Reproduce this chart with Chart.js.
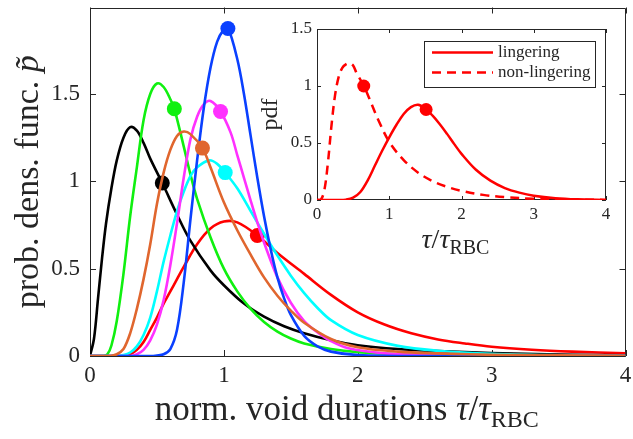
<!DOCTYPE html>
<html>
<head>
<meta charset="utf-8">
<script src="https://cdn.jsdelivr.net/npm/chart.js@4.4.1/dist/chart.umd.min.js"></script>
<style>
    html, body { margin: 0; padding: 0; background: #fff; }
    #wrap { position: relative; width: 633px; height: 439px; }
    #wrap canvas { position: absolute; left: 0; top: 0; }
</style>
</head>
<body>
<div id="wrap">
    <canvas id="main" width="633" height="439"></canvas>
    <canvas id="inset" width="633" height="439"></canvas>
</div>
<script>
// ---- Data ----
const xTicks = [0, 1, 2, 3, 4];
const yTicks = [0, 0.5, 1, 1.5];
const insetYTicks = [0, 0.5, 1, 1.5];

const redX = [0, 0.25, 0.3, 0.35, 0.4, 0.45, 0.5, 0.55, 0.6, 0.65, 0.7, 0.8, 0.9, 1.0, 1.1, 1.25, 1.4, 1.6, 1.8, 2.0, 2.2, 2.4, 2.6, 2.8, 3.0, 3.3, 3.6, 4.0];
const redY = [0, 0, 0.01, 0.035, 0.08, 0.15, 0.22, 0.3, 0.37, 0.44, 0.51, 0.64, 0.73, 0.77, 0.765, 0.69, 0.59, 0.47, 0.35, 0.25, 0.18, 0.13, 0.095, 0.072, 0.053, 0.036, 0.025, 0.015];

const blackX = [0, 0.03, 0.06, 0.09, 0.12, 0.16, 0.2, 0.25, 0.3, 0.35, 0.4, 0.45, 0.54, 0.65, 0.75, 0.9, 1.0, 1.15, 1.3, 1.45, 1.6, 1.8, 2.0, 2.3, 2.6, 3.0, 3.5, 4.0];
const blackY = [0, 0.1, 0.33, 0.56, 0.76, 0.96, 1.12, 1.25, 1.31, 1.29, 1.22, 1.13, 0.99, 0.81, 0.66, 0.49, 0.405, 0.3, 0.225, 0.17, 0.13, 0.09, 0.062, 0.04, 0.028, 0.017, 0.008, 0.004];

const greenX = [0, 0.1, 0.13, 0.16, 0.2, 0.25, 0.3, 0.35, 0.4, 0.45, 0.5, 0.55, 0.6, 0.63, 0.7, 0.75, 0.8, 0.9, 1.0, 1.1, 1.2, 1.3, 1.4, 1.5, 1.6, 1.8, 2.0, 2.3, 2.6, 3.0, 4.0];
const greenY = [0, 0, 0.01, 0.06, 0.2, 0.47, 0.8, 1.08, 1.35, 1.5, 1.56, 1.54, 1.47, 1.415, 1.2, 1.04, 0.9, 0.68, 0.5, 0.37, 0.27, 0.195, 0.14, 0.1, 0.072, 0.04, 0.022, 0.01, 0.005, 0.002, 0];

const cyanX = [0, 0.2, 0.25, 0.3, 0.35, 0.4, 0.45, 0.5, 0.55, 0.6, 0.65, 0.7, 0.75, 0.8, 0.89, 0.95, 1.01, 1.1, 1.2, 1.3, 1.4, 1.5, 1.6, 1.7, 1.8, 2.0, 2.3, 2.6, 3.0, 3.5, 4.0];
const cyanY = [0, 0, 0.005, 0.02, 0.055, 0.12, 0.22, 0.37, 0.54, 0.69, 0.83, 0.94, 1.03, 1.08, 1.12, 1.1, 1.05, 0.96, 0.83, 0.7, 0.575, 0.46, 0.36, 0.275, 0.205, 0.12, 0.058, 0.03, 0.012, 0.004, 0.001];

const magentaX = [0, 0.3, 0.35, 0.4, 0.45, 0.5, 0.55, 0.6, 0.65, 0.7, 0.75, 0.8, 0.85, 0.9, 0.975, 1.05, 1.1, 1.15, 1.2, 1.25, 1.3, 1.4, 1.5, 1.6, 1.7, 1.8, 1.93, 2.2, 2.5, 3.0, 4.0];
const magentaY = [0, 0, 0.01, 0.035, 0.09, 0.18, 0.32, 0.52, 0.76, 1.02, 1.24, 1.37, 1.44, 1.46, 1.4, 1.28, 1.15, 1.02, 0.89, 0.765, 0.65, 0.45, 0.305, 0.2, 0.135, 0.085, 0.044, 0.015, 0.005, 0.001, 0];

const blueX = [0, 0.45, 0.5, 0.55, 0.6, 0.65, 0.7, 0.75, 0.8, 0.85, 0.9, 0.95, 1.0, 1.03, 1.1, 1.15, 1.2, 1.25, 1.3, 1.35, 1.4, 1.45, 1.5, 1.6, 1.7, 1.8, 2.0, 2.5, 4.0];
const blueY = [0, 0, 0.003, 0.01, 0.04, 0.15, 0.42, 0.78, 1.12, 1.42, 1.65, 1.8, 1.87, 1.88, 1.7, 1.5, 1.26, 1.02, 0.8, 0.61, 0.45, 0.33, 0.235, 0.115, 0.055, 0.025, 0.006, 0, 0];

const orangeX = [0, 0.15, 0.2, 0.25, 0.3, 0.35, 0.4, 0.45, 0.5, 0.55, 0.6, 0.65, 0.7, 0.75, 0.84, 0.9, 1.0, 1.1, 1.2, 1.3, 1.4, 1.5, 1.6, 1.8, 2.0, 2.3, 2.6, 3.0, 4.0];
const orangeY = [0, 0, 0.01, 0.04, 0.13, 0.27, 0.44, 0.64, 0.87, 1.05, 1.18, 1.26, 1.285, 1.27, 1.19, 1.08, 0.88, 0.72, 0.58, 0.45, 0.345, 0.26, 0.19, 0.097, 0.05, 0.025, 0.015, 0.007, 0.001];

// marker dots, same order as the curves: red, black, green, cyan, magenta, blue, orange
const dotX = [1.25, 0.54, 0.63, 1.01, 0.975, 1.03, 0.84];
const dotY = [0.69, 0.99, 1.415, 1.05, 1.4, 1.875, 1.19];

// inset
const lingX = [0, 0.3, 0.4, 0.5, 0.6, 0.7, 0.8, 0.9, 1.0, 1.1, 1.2, 1.3, 1.4, 1.5, 1.6, 1.7, 1.8, 1.9, 2.0, 2.2, 2.4, 2.6, 2.8, 3.0, 3.3, 3.6, 4.0];
const lingY = [0, 0, 0.003, 0.02, 0.07, 0.17, 0.3, 0.43, 0.55, 0.66, 0.755, 0.815, 0.835, 0.8, 0.74, 0.665, 0.58, 0.49, 0.405, 0.265, 0.17, 0.105, 0.065, 0.038, 0.016, 0.006, 0.001];
const nonX = [0, 0.05, 0.1, 0.15, 0.2, 0.25, 0.3, 0.35, 0.4, 0.45, 0.5, 0.55, 0.65, 0.75, 0.85, 1.0, 1.2, 1.4, 1.6, 1.8, 2.0, 2.3, 2.6, 3.0, 3.5, 4.0];
const nonY = [0, 0, 0.08, 0.32, 0.65, 0.92, 1.08, 1.16, 1.19, 1.2, 1.18, 1.11, 1.0, 0.85, 0.7, 0.51, 0.35, 0.24, 0.165, 0.115, 0.08, 0.045, 0.025, 0.011, 0.004, 0.001];
const insetDotX = [1.51, 0.647];
const insetDotY = [0.794, 1.0];
const legendLabels = ['lingering', 'non-lingering'];

// ---- Styling ----
const FONT = '"Liberation Serif", "Times New Roman", serif';
const AXIS = '#262626';
const TENSION = 0.35;

const toPts = (xs, ys) => xs.map((x, i) => ({ x: x, y: ys[i] }));

const mainCurves = [
    { xs: redX, ys: redY, color: '#ff0000' },
    { xs: blackX, ys: blackY, color: '#000000' },
    { xs: greenX, ys: greenY, color: '#10f010' },
    { xs: cyanX, ys: cyanY, color: '#00ffff' },
    { xs: magentaX, ys: magentaY, color: '#ff30ff' },
    { xs: blueX, ys: blueY, color: '#0a40ff' },
    { xs: orangeX, ys: orangeY, color: '#e0662e' }
];

// Chart.js draws lower `order` on top, so the first curve gets the highest
const mainDatasets = [];
mainCurves.forEach((c, i) => {
    const base = 2 * (mainCurves.length - i);
    mainDatasets.push({
        data: toPts(c.xs, c.ys), borderColor: c.color, borderWidth: 2.6,
        pointRadius: 0, tension: TENSION, fill: false, order: base
    });
    mainDatasets.push({
        data: [{ x: dotX[i], y: dotY[i] }], showLine: false, pointRadius: 7.5,
        pointBackgroundColor: c.color, pointBorderWidth: 0, order: base - 1
    });
});

const insetDatasets = [
    { data: toPts(lingX, lingY), borderColor: '#ff0000', borderWidth: 2.5, pointRadius: 0, tension: TENSION, order: 4 },
    { data: toPts(nonX, nonY), borderColor: '#ff0000', borderWidth: 2.5, borderDash: [9, 6], pointRadius: 0, tension: TENSION, order: 3 },
    { data: [{ x: insetDotX[0], y: insetDotY[0] }], showLine: false, pointRadius: 6.5, pointBackgroundColor: '#ff0000', pointBorderWidth: 0, order: 2 },
    { data: [{ x: insetDotX[1], y: insetDotY[1] }], showLine: false, pointRadius: 6.5, pointBackgroundColor: '#ff0000', pointBorderWidth: 0, order: 1 }
];

// ---- Helpers ----
const fontStr = (size, italic) => (italic ? 'italic ' : '') + size + 'px ' + FONT;

// parts: [text, size, italic, dy]
function drawRich(ctx, parts, x, y) {
    let w = 0;
    parts.forEach(p => { ctx.font = fontStr(p[1], p[2]); w += ctx.measureText(p[0]).width; });
    let cx = x - w / 2;
    parts.forEach(p => {
        ctx.font = fontStr(p[1], p[2]);
        ctx.fillText(p[0], cx, y + (p[3] || 0));
        cx += ctx.measureText(p[0]).width;
    });
}

// MATLAB-like box with inward ticks on all four sides
const boxPlugin = (tickLen, layer) => ({
    id: 'box',
    [layer](chart) {
        const { ctx, chartArea: a, scales } = chart;
        ctx.save();
        ctx.strokeStyle = AXIS;
        ctx.lineWidth = 1;
        ctx.beginPath();
        ctx.rect(Math.round(a.left) + 0.5, Math.round(a.top) + 0.5, Math.round(a.width) - 1, Math.round(a.height) - 1);
        scales.x.ticks.forEach(t => {
            const px = Math.round(scales.x.getPixelForValue(t.value)) + 0.5;
            ctx.moveTo(px, a.bottom); ctx.lineTo(px, a.bottom - tickLen);
            ctx.moveTo(px, a.top); ctx.lineTo(px, a.top + tickLen);
        });
        scales.y.ticks.forEach(t => {
            const py = Math.round(scales.y.getPixelForValue(t.value)) + 0.5;
            ctx.moveTo(a.left, py); ctx.lineTo(a.left + tickLen, py);
            ctx.moveTo(a.right, py); ctx.lineTo(a.right - tickLen, py);
        });
        ctx.stroke();
        ctx.restore();
    }
});

const noPad = s => { s.paddingTop = 0; s.paddingBottom = 0; s.paddingLeft = 0; s.paddingRight = 0; };

const tickFmt = v => String(v);

// ---- Main chart ----
const mainLabels = {
    id: 'mainLabels',
    afterDraw(chart) {
        const { ctx, chartArea: a } = chart;
        ctx.save();
        ctx.fillStyle = AXIS;
        ctx.textBaseline = 'alphabetic';
        ctx.textAlign = 'left';
        drawRich(ctx, [
            ['norm. void durations ', 35, false],
            ['\u03c4', 35, true], ['/', 35, false], ['\u03c4', 35, true],
            ['RBC', 24, false, 7]
        ], (a.left + a.right) / 2 - 11, 420);
        ctx.translate(38, (a.top + a.bottom) / 2);
        ctx.rotate(-Math.PI / 2);
        drawRich(ctx, [['prob. dens. func. ', 34, false], ['p\u0303', 34, true]], 0, 0);
        ctx.restore();
    }
};

new Chart(document.getElementById('main'), {
    type: 'line',
    data: { datasets: mainDatasets },
    options: {
        responsive: false,
        animation: false,
        events: [],
        layout: { padding: { left: 0, right: 5, top: 7, bottom: 0 } },
        plugins: { legend: { display: false }, tooltip: { enabled: false } },
        scales: {
            x: {
                type: 'linear', min: 0, max: 4,
                afterBuildTicks: s => { s.ticks = xTicks.map(v => ({ value: v })); },
                afterFit: s => { s.height = 83; noPad(s); },
                grid: { display: false, drawTicks: false },
                border: { display: false },
                ticks: { font: { family: FONT, size: 23 }, color: AXIS, padding: 6, maxRotation: 0, autoSkip: false, callback: tickFmt }
            },
            y: {
                type: 'linear', min: 0, max: 1.995,
                afterBuildTicks: s => { s.ticks = yTicks.map(v => ({ value: v })); },
                afterFit: s => { s.width = 90; noPad(s); },
                grid: { display: false, drawTicks: false },
                border: { display: false },
                ticks: { font: { family: FONT, size: 23 }, color: AXIS, padding: 10, autoSkip: false, callback: tickFmt }
            }
        }
    },
    plugins: [boxPlugin(6, 'beforeDatasetsDraw'), mainLabels]
});

// ---- Inset chart ----
const insetDecor = {
    id: 'insetDecor',
    beforeDraw(chart) {
        const { ctx, chartArea: a } = chart;
        ctx.save();
        ctx.fillStyle = '#ffffff';
        ctx.fillRect(a.left, a.top, a.width, a.height);
        ctx.restore();
    },
    afterDraw(chart) {
        const { ctx, chartArea: a } = chart;
        ctx.save();
        // legend
        const lx = a.left + 107, ly = a.top + 11.5, lw = 171, lh = 46;
        ctx.fillStyle = '#ffffff';
        ctx.fillRect(lx, ly, lw, lh);
        ctx.strokeStyle = AXIS;
        ctx.lineWidth = 1;
        ctx.strokeRect(Math.round(lx) + 0.5, Math.round(ly) + 0.5, lw, lh);
        [0, 1].forEach(i => {
            const yy = ly + 12 + i * 20;
            ctx.strokeStyle = '#ff0000';
            ctx.lineWidth = 2.5;
            ctx.setLineDash(i === 1 ? [9, 6] : []);
            ctx.beginPath();
            ctx.moveTo(lx + 8, yy); ctx.lineTo(lx + 69, yy);
            ctx.stroke();
            ctx.setLineDash([]);
            ctx.fillStyle = AXIS;
            ctx.font = fontStr(17, false);
            ctx.textBaseline = 'middle';
            ctx.fillText(legendLabels[i], lx + 74, yy);
        });
        // axis titles
        ctx.fillStyle = AXIS;
        ctx.textBaseline = 'alphabetic';
        ctx.textAlign = 'left';
        drawRich(ctx, [['\u03c4', 28, true], ['/', 28, false], ['\u03c4', 28, true], ['RBC', 20, false, 6]], (a.left + a.right) / 2 - 6, 248);
        ctx.translate(277, (a.top + a.bottom) / 2);
        ctx.rotate(-Math.PI / 2);
        drawRich(ctx, [['pdf', 24, false]], 0, 0);
        ctx.restore();
    }
};

new Chart(document.getElementById('inset'), {
    type: 'line',
    data: { datasets: insetDatasets },
    options: {
        responsive: false,
        animation: false,
        events: [],
        layout: { padding: { left: 0, right: 27, top: 29, bottom: 0 } },
        plugins: { legend: { display: false }, tooltip: { enabled: false } },
        scales: {
            x: {
                type: 'linear', min: 0, max: 4,
                afterBuildTicks: s => { s.ticks = xTicks.map(v => ({ value: v })); },
                afterFit: s => { s.height = 239; noPad(s); },
                grid: { display: false, drawTicks: false },
                border: { display: false },
                ticks: { font: { family: FONT, size: 17 }, color: AXIS, padding: 4, maxRotation: 0, autoSkip: false, callback: tickFmt }
            },
            y: {
                type: 'linear', min: 0, max: 1.5,
                afterBuildTicks: s => { s.ticks = insetYTicks.map(v => ({ value: v })); },
                afterFit: s => { s.width = 317; noPad(s); },
                grid: { display: false, drawTicks: false },
                border: { display: false },
                ticks: { font: { family: FONT, size: 17 }, color: AXIS, padding: 5, autoSkip: false, callback: tickFmt }
            }
        }
    },
    plugins: [boxPlugin(4, 'beforeDatasetsDraw'), insetDecor]
});
</script>
</body>
</html>
